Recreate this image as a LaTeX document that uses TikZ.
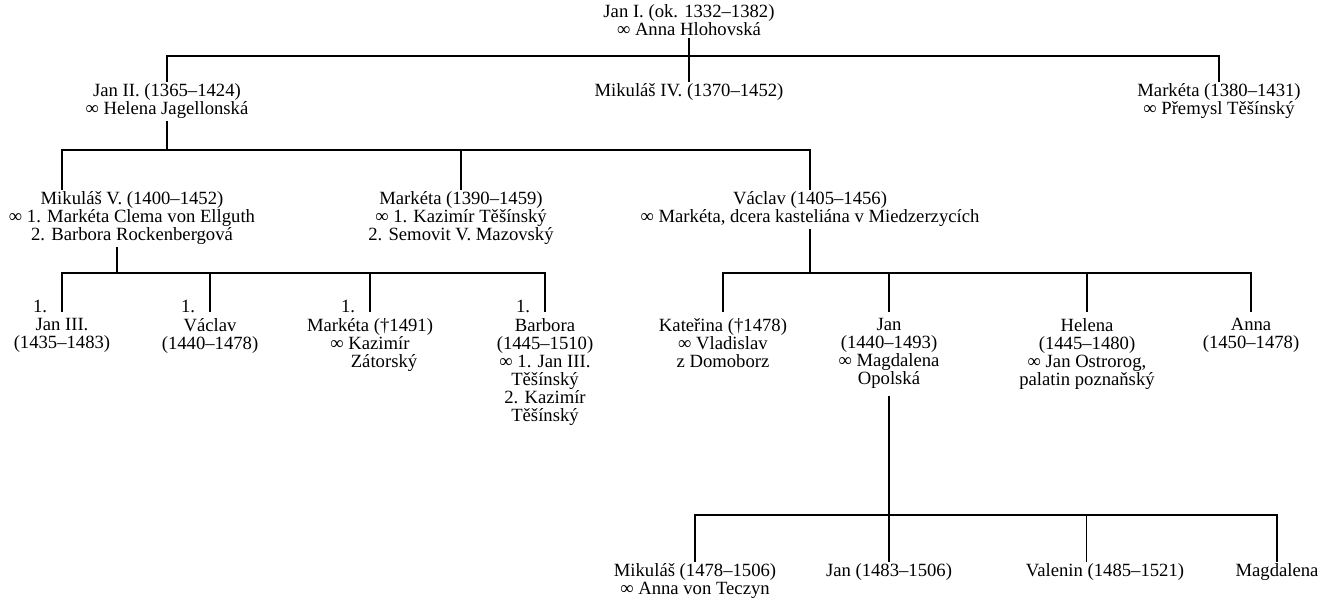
\documentclass[tikz,border=0pt]{standalone}
\usepackage{fontspec}
\setmainfont{Liberation Serif}
\usepackage{tikz}
\usetikzlibrary{positioning}

\newcommand{\rodfont}{\fontsize{14pt}{13.5pt}\selectfont}

\begin{document}
\begin{tikzpicture}[
        x=0.75pt, y=-0.75pt,
        person/.style={align=center, anchor=north, inner sep=0pt, outer sep=1.5pt, font=\rodfont},
        child/.style={person, outer sep=5pt},
        num/.style={anchor=base east, inner sep=0pt, font=\rodfont},
        kin/.style={draw, line width=1.1pt},
      ]
      \useasboundingbox (0,0) rectangle (1332,599);

      \node[person] (janI) at (689,3) {Jan I. (ok. 1332–1382)\\∞ Anna Hlohovská};

      \node[person] (janII) at (167,82) {Jan II. (1365–1424)\\∞ Helena Jagellonská};
      \node[person] (mikIV) at (689,82) {Mikuláš IV. (1370–1452)};
      \node[person] (markA) at (1219,82) {Markéta (1380–1431)\\∞ Přemysl Těšínský};

      \node[person] (mikV) at (132,190) {Mikuláš V. (1400–1452)\\∞ 1. Markéta Clema von Ellguth\\2. Barbora Rockenbergová};
      \node[person] (markB) at (461,190) {Markéta (1390–1459)\\∞ 1. Kazimír Těšínský\\2. Semovit V. Mazovský};
      \node[person] (vaclav) at (810,190) {Václav (1405–1456)\\∞ Markéta, dcera kasteliána v Miedzerzycích};
      \coordinate (mikVin) at (mikV.north -| 62,0);
      \coordinate (mikVout) at (mikV.south -| 117,0);

      \node[child] (janIII) at (62,312) {Jan III.\\(1435–1483)};
      \node[child] (vaclavB) at (210,312) {Václav\\(1440–1478)};
      \node[child] (markC) at (370,312) {Markéta (†1491)\\∞ Kazimír\\\hspace*{1.5em}Zátorský};
      \node[child] (barbora) at (545,312) {Barbora\\(1445–1510)\\∞ 1. Jan III.\\Těšínský\\2. Kazimír\\Těšínský};
      \node[num] (n1) at ([xshift=-11pt]janIII.north) {1.};
      \node[num] (n2) at ([xshift=-11pt]vaclavB.north) {1.};
      \node[num] (n3) at ([xshift=-11pt]markC.north) {1.};
      \node[num] (n4) at ([xshift=-11pt]barbora.north) {1.};

      \node[child] (kater) at (723,312) {Kateřina (†1478)\\∞ Vladislav\\z Domoborz};
      \node[child] (janB) at (889,312) {Jan\\(1440–1493)\\∞ Magdalena\\Opolská};
      \node[child] (helena) at (1087,312) {Helena\\(1445–1480)\\∞ Jan Ostrorog,\\palatin poznaňský};
      \node[child] (anna) at (1251,312) {Anna\\(1450–1478)};

      \node[person] (mikB) at (695,562) {Mikuláš (1478–1506)\\∞ Anna von Teczyn};
      \node[person] (janC) at (889,562) {Jan (1483–1506)};
      \node[person] (valenin) at (1105,562) {Valenin (1485–1521)};
      \node[person] (magd) at (1277,562) {Magdalena};
      \coordinate (valIn) at ([xshift=-14pt]valenin.north);

      \draw[kin] (janI.south) -- (mikIV.north);
      \draw[kin] (janII.north) |- (markA.north |- 0,56) -- (markA.north);

      \draw[kin] (janII.south) -- (janII.south |- 0,150);
      \draw[kin] (mikVin) |- (vaclav.north |- 0,150) -- (vaclav.north);
      \draw[kin] (markB.north) -- (markB.north |- 0,150);

      \draw[kin] (mikVout) -- (mikVout |- 0,273);
      \draw[kin] (janIII.north) |- (barbora.north |- 0,273) -- (barbora.north);
      \draw[kin] (vaclavB.north) -- (vaclavB.north |- 0,273);
      \draw[kin] (markC.north) -- (markC.north |- 0,273);

      \draw[kin] (vaclav.south) -- (vaclav.south |- 0,273);
      \draw[kin] (kater.north) |- (anna.north |- 0,273) -- (anna.north);
      \draw[kin] (janB.north) -- (janB.north |- 0,273);
      \draw[kin] (helena.north) -- (helena.north |- 0,273);

      \draw[kin] (janB.south) -- (janC.north);
      \draw[kin] (mikB.north) |- (magd.north |- 0,515) -- (magd.north);
      \draw[kin] (valIn) -- (valIn |- 0,515);

    \end{tikzpicture}
\end{document}
